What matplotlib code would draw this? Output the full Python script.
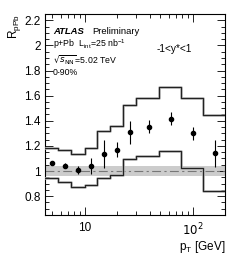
import matplotlib
matplotlib.use('Agg')
import matplotlib.pyplot as plt
from matplotlib.ticker import MultipleLocator, LogLocator, NullFormatter, FixedLocator, FixedFormatter
import numpy as np

plt.rcParams['font.family'] = ['Liberation Sans', 'DejaVu Sans']

# bin edges (GeV) and points
edges = [4.3, 5.7, 7.5, 10, 13, 17.3, 22.6, 30, 49, 78, 124, 200]
pt = [5.0, 6.6, 8.7, 11.4, 15.1, 19.9, 26.5, 39.4, 63, 101, 162]
rppb = [1.067, 1.043, 1.008, 1.04, 1.134, 1.168, 1.307, 1.352, 1.416, 1.30, 1.14]
stat = [0.012, 0.02, 0.03, 0.06, 0.11, 0.06, 0.09, 0.053, 0.053, 0.05, 0.11]
sys_up = [1.187, 1.166, 1.134, 1.187, 1.32, 1.36, 1.528, 1.58, 1.667, 1.58, 1.443]
sys_lo = [0.947, 0.912, 0.875, 0.886, 0.947, 0.966, 1.094, 1.12, 1.16, 1.027, 0.84]
norm_unc = 0.04

fig = plt.figure(figsize=(2.49, 2.54), dpi=100)
ax = fig.add_axes([45/249, 39/254, 180/249, 201/254])

ax.axhspan(1 - norm_unc, 1 + norm_unc, color='#cccccc', lw=0, zorder=1)
ax.axhline(1, color='#777777', lw=0.8, ls=(0, (8, 3, 2, 3)), zorder=2)

for band in (sys_up, sys_lo):
    vals = band + [band[-1]]
    ax.step(edges, vals, where='post', color='#aaaaaa', lw=1.8, zorder=3)
    ax.step(edges, vals, where='post', color='#222222', lw=0.8, zorder=4)

ax.errorbar(pt, rppb, yerr=stat, fmt='o', color='black', ms=3, elinewidth=0.8,
            capsize=0, zorder=5)

ax.set_xscale('log')
ax.set_xlim(4.3, 200)
ax.set_ylim(0.65, 2.25)

ax.xaxis.set_major_locator(FixedLocator([10, 100]))
ax.xaxis.set_major_formatter(FixedFormatter(['10', r'$10^{2}$']))
ax.xaxis.set_minor_locator(LogLocator(base=10, subs=np.arange(2, 10)))
ax.xaxis.set_minor_formatter(NullFormatter())
ax.yaxis.set_major_locator(MultipleLocator(0.2))
ax.yaxis.set_minor_locator(MultipleLocator(0.05))
ax.set_yticks([0.8, 1.0, 1.2, 1.4, 1.6, 1.8, 2.0, 2.2])
ax.set_yticklabels(['0.8', '1', '1.2', '1.4', '1.6', '1.8', '2', '2.2'])

ax.tick_params(which='both', direction='in', top=True, right=True, labelsize=8.5, width=0.6)
ax.tick_params(which='major', length=6)
ax.tick_params(which='minor', length=3)
ax.tick_params(axis='x', pad=5)
ax.tick_params(axis='y', pad=3)
for s in ax.spines.values():
    s.set_linewidth(0.8)

ax.set_ylabel(r'R$_{\mathregular{pPb}}$', fontsize=8.5, loc='top', labelpad=1)
ax.set_xlabel(r'p$_{\mathregular{T}}$ [GeV]', fontsize=8.5, loc='right', labelpad=0)

tr = ax.transAxes
ax.text(0.045, 0.915, 'ATLAS', fontsize=6.8, fontweight='bold', style='italic', transform=tr, va='center')
ax.text(0.265, 0.915, 'Preliminary', fontsize=6.8, transform=tr, va='center')
ax.text(0.045, 0.85, r'p+Pb  L$_{\mathregular{int}}$=25 nb$^{\mathregular{-1}}$', fontsize=6.3, transform=tr, va='center')
ax.text(0.045, 0.775, r'$\sqrt{s_{\mathrm{NN}}}$=5.02 TeV', fontsize=6.3, transform=tr, va='center')
ax.text(0.045, 0.71, '0-90%', fontsize=6.3, transform=tr, va='center')
ax.text(0.62, 0.825, '-1<y*<1', fontsize=7.3, transform=tr, va='center')

fig.savefig('out.png', dpi=100)
